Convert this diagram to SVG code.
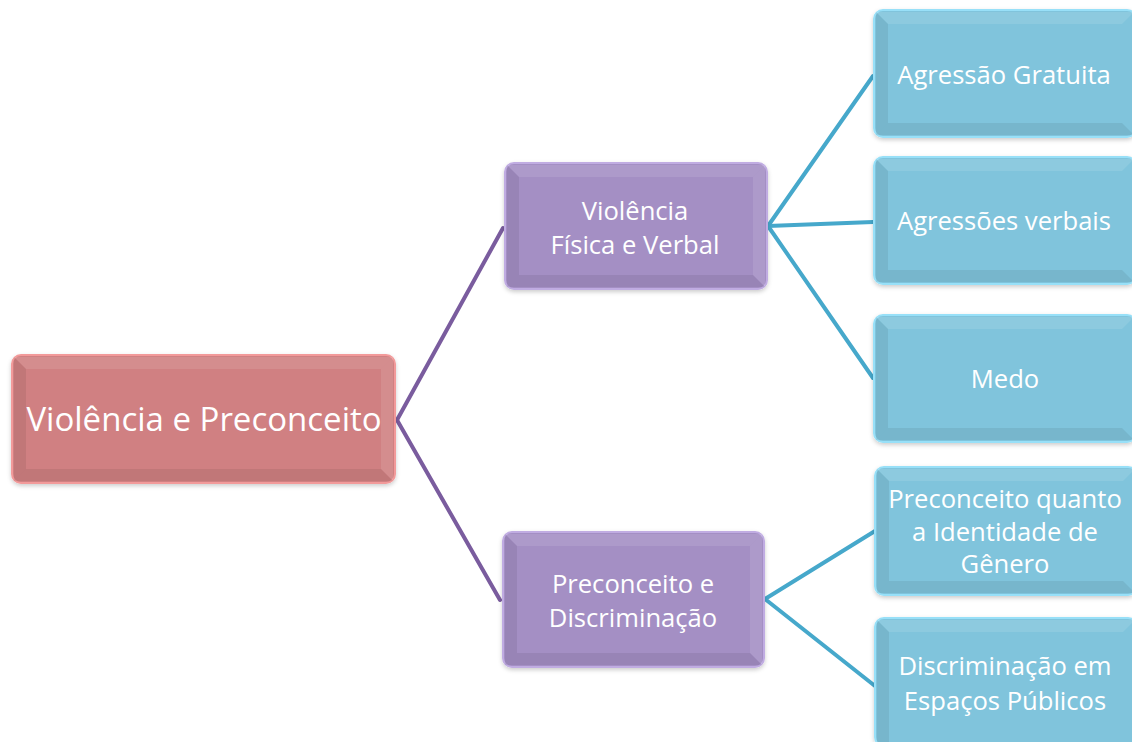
<svg xmlns="http://www.w3.org/2000/svg" width="1132" height="742" viewBox="0 0 1132 742">
<defs>
<style>
text{font-family:"Open Sans","Noto Sans",sans-serif;fill:#ffffff;text-anchor:middle;dominant-baseline:central}
.t{font-size:25.6px}
.root{font-size:33px}
.lp{stroke:#7A5C9E;stroke-width:4;fill:none;stroke-linecap:round}
.lb{stroke:#46A8CB;stroke-width:4;fill:none;stroke-linecap:round}
.hl{fill:#ffffff;opacity:0.1}
.sh{fill:#000000;opacity:0.07}
</style>
<filter id="ds" x="-10%" y="-10%" width="120%" height="130%">
<feDropShadow dx="0" dy="2" stdDeviation="2" flood-color="#000" flood-opacity="0.2"/>
</filter>
</defs>
<g id="connectors">
<path class="lp" d="M397 420 L503 228"/>
<path class="lp" d="M397 420 L500 600"/>
<path class="lb" d="M768 226 L873 76"/>
<path class="lb" d="M768 226 L873 222"/>
<path class="lb" d="M768 226 L873 378"/>
<path class="lb" d="M765 599 L875 531"/>
<path class="lb" d="M765 599 L875 686"/>
</g>
<g id="root">
<rect x="12" y="355" width="383" height="128" rx="9" fill="#D08082" stroke="#F29A9A" stroke-width="2" filter="url(#ds)"/>
<polygon class="hl" points="14,357 393,357 381,369 26,369"/>
<polygon class="hl" points="393,357 393,481 381,469 381,369"/>
<polygon class="sh" points="14,357 26,369 26,469 14,481"/>
<polygon class="sh" points="14,481 26,469 381,469 393,481"/>
<text class="root" x="204" y="418">Violência e Preconceito</text>
</g>
<g id="n1">
<rect x="505" y="163" width="262" height="126" rx="9" fill="#A48FC4" stroke="#C0ACE2" stroke-width="2" filter="url(#ds)"/>
<polygon class="hl" points="507,165 765,165 753,177 519,177"/>
<polygon class="hl" points="765,165 765,287 753,275 753,177"/>
<polygon class="sh" points="507,165 519,177 519,275 507,287"/>
<polygon class="sh" points="507,287 519,275 753,275 765,287"/>
<text class="t" x="635" y="210">Violência</text>
<text class="t" x="635" y="244">Física e Verbal</text>
</g>
<g id="n2">
<rect x="503" y="532" width="261" height="135" rx="9" fill="#A48FC4" stroke="#C0ACE2" stroke-width="2" filter="url(#ds)"/>
<polygon class="hl" points="505,534 762,534 750,546 517,546"/>
<polygon class="hl" points="762,534 762,665 750,653 750,546"/>
<polygon class="sh" points="505,534 517,546 517,653 505,665"/>
<polygon class="sh" points="505,665 517,653 750,653 762,665"/>
<text class="t" x="633" y="583">Preconceito e</text>
<text class="t" x="633" y="617">Discriminação</text>
</g>
<g id="n3">
<rect x="874" y="10" width="262" height="127" rx="9" fill="#80C4DC" stroke="#98E0F8" stroke-width="2" filter="url(#ds)"/>
<polygon class="hl" points="876,12 1134,12 1122,24 888,24"/>
<polygon class="sh" points="876,12 888,24 888,123 876,135"/>
<polygon class="sh" points="876,135 888,123 1122,123 1134,135"/>
<text class="t" x="1004" y="74">Agressão Gratuita</text>
</g>
<g id="n4">
<rect x="874" y="157" width="262" height="127" rx="9" fill="#80C4DC" stroke="#98E0F8" stroke-width="2" filter="url(#ds)"/>
<polygon class="hl" points="876,159 1134,159 1122,171 888,171"/>
<polygon class="sh" points="876,159 888,171 888,270 876,282"/>
<polygon class="sh" points="876,282 888,270 1122,270 1134,282"/>
<text class="t" x="1004" y="220">Agressões verbais</text>
</g>
<g id="n5">
<rect x="874" y="315" width="262" height="127" rx="9" fill="#80C4DC" stroke="#98E0F8" stroke-width="2" filter="url(#ds)"/>
<polygon class="hl" points="876,317 1134,317 1122,329 888,329"/>
<polygon class="sh" points="876,317 888,329 888,428 876,440"/>
<polygon class="sh" points="876,440 888,428 1122,428 1134,440"/>
<text class="t" x="1005" y="378">Medo</text>
</g>
<g id="n6">
<rect x="875" y="467" width="262" height="128" rx="9" fill="#80C4DC" stroke="#98E0F8" stroke-width="2" filter="url(#ds)"/>
<polygon class="hl" points="877,469 1135,469 1123,481 889,481"/>
<polygon class="sh" points="877,469 889,481 889,581 877,593"/>
<polygon class="sh" points="877,593 889,581 1123,581 1135,593"/>
<text class="t" x="1005" y="498">Preconceito quanto</text>
<text class="t" x="1005" y="531">a Identidade de</text>
<text class="t" x="1005" y="563">Gênero</text>
</g>
<g id="n7">
<rect x="875" y="618" width="262" height="128" rx="9" fill="#80C4DC" stroke="#98E0F8" stroke-width="2" filter="url(#ds)"/>
<polygon class="hl" points="877,620 1135,620 1123,632 889,632"/>
<polygon class="sh" points="877,620 889,632 889,742 877,742"/>
<text class="t" x="1005" y="665">Discriminação em</text>
<text class="t" x="1005" y="700">Espaços Públicos</text>
</g>
</svg>
